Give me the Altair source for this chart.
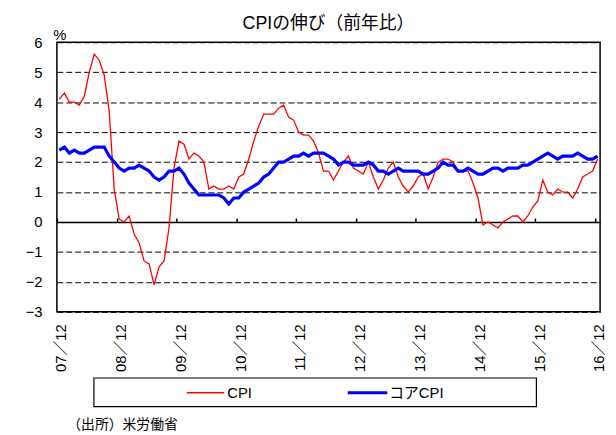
import altair as alt
import pandas as pd

# ---- data ----
cpi = [4.1,
       4.3, 4.0, 4.0, 3.9, 4.2, 5.0, 5.6, 5.4, 4.9, 3.7, 1.1, 0.1,
       0.0, 0.2, -0.4, -0.7, -1.3, -1.4, -2.1, -1.5, -1.3, -0.2, 1.8, 2.7,
       2.6, 2.1, 2.3, 2.2, 2.0, 1.1, 1.2, 1.1, 1.1, 1.2, 1.1, 1.5,
       1.6, 2.1, 2.7, 3.2, 3.6, 3.6, 3.6, 3.8, 3.9, 3.5, 3.4, 3.0,
       2.9, 2.9, 2.7, 2.3, 1.7, 1.7, 1.4, 1.7, 2.0, 2.2, 1.8, 1.7,
       1.6, 2.0, 1.5, 1.1, 1.4, 1.8, 2.0, 1.5, 1.2, 1.0, 1.2, 1.5,
       1.6, 1.1, 1.5, 2.0, 2.1, 2.1, 2.0, 1.7, 1.7, 1.7, 1.3, 0.8,
       -0.1, 0.0, -0.1, -0.2, 0.0, 0.1, 0.2, 0.2, 0.0, 0.2, 0.5, 0.7,
       1.4, 1.0, 0.9, 1.1, 1.0, 1.0, 0.8, 1.1, 1.5, 1.6, 1.7, 2.1]
core = [2.4,
        2.5, 2.3, 2.4, 2.3, 2.3, 2.4, 2.5, 2.5, 2.5, 2.2, 2.0, 1.8,
        1.7, 1.8, 1.8, 1.9, 1.8, 1.7, 1.5, 1.4, 1.5, 1.7, 1.7, 1.8,
        1.6, 1.3, 1.1, 0.9, 0.9, 0.9, 0.9, 0.9, 0.8, 0.6, 0.8, 0.8,
        1.0, 1.1, 1.2, 1.3, 1.5, 1.6, 1.8, 2.0, 2.0, 2.1, 2.2, 2.2,
        2.3, 2.2, 2.3, 2.3, 2.3, 2.2, 2.1, 1.9, 2.0, 2.0, 1.9, 1.9,
        1.9, 2.0, 1.9, 1.7, 1.7, 1.6, 1.7, 1.8, 1.7, 1.7, 1.7, 1.7,
        1.6, 1.6, 1.7, 1.8, 2.0, 1.9, 1.9, 1.7, 1.7, 1.8, 1.7, 1.6,
        1.6, 1.7, 1.8, 1.8, 1.7, 1.8, 1.8, 1.8, 1.9, 1.9, 2.0, 2.1,
        2.2, 2.3, 2.2, 2.1, 2.2, 2.2, 2.2, 2.3, 2.2, 2.1, 2.1, 2.2]
year_labels = ["07／12", "08／12", "09／12", "10／12", "11／12",
               "12／12", "13／12", "14／12", "15／12", "16／12"]
y_ticks = [-3, -2, -1, 0, 1, 2, 3, 4, 5, 6]
series_names = ["CPI", "コアCPI"]
title_text = "CPIの伸び（前年比）"
unit_text = "%"
source_text = "（出所）米労働省"

# ---- build ----
n = len(cpi)
df = pd.DataFrame({"i": list(range(n)), "cpi": cpi, "core": core})
tick_vals = [k * 12 - 0.5 for k in range(len(year_labels))]

FONT = "Liberation Sans, Noto Sans CJK JP"
W, H = 550, 273
ZERO_PX = H * y_ticks[-1] / (y_ticks[-1] - y_ticks[0])

x_scale = alt.Scale(domain=[-0.5, n - 0.5], nice=False, zero=False)
y_scale = alt.Scale(domain=[y_ticks[0], y_ticks[-1]], nice=False, zero=False)
y_axis = alt.Axis(values=y_ticks, grid=True, gridDash=[6, 3], gridColor="#000",
                  gridWidth=1, domain=False, ticks=False, tickSize=0,
                  labelPadding=15, labelFontSize=15, labelFont=FONT,
                  labelColor="#000", title=None)

label_expr = "[" + ",".join("'%s'" % s for s in year_labels) + "][round((datum.value + 0.5) / 12)]"

bottom_axis = alt.Axis(orient="bottom", values=tick_vals, labelExpr=label_expr,
                       labelAngle=270, labelPadding=12, labelOffset=4,
                       labelFontSize=15, labelFont=FONT, labelColor="#000",
                       ticks=False, tickSize=0, domain=False, grid=False,
                       title=None)
zero_axis = alt.Axis(orient="top", offset=-ZERO_PX, values=tick_vals,
                     labels=False, ticks=True, tickSize=4, tickColor="#000",
                     tickWidth=1.5, domain=True, domainColor="#000",
                     domainWidth=1.5, grid=False, title=None)

base = alt.Chart(df)
red = base.mark_line(color="#FF0000", strokeWidth=1.3).encode(
    x=alt.X("i:Q", scale=x_scale, axis=zero_axis),
    y=alt.Y("cpi:Q", scale=y_scale, axis=y_axis),
)
blue = base.mark_line(color="#0000FF", strokeWidth=3.2).encode(
    x=alt.X("i:Q", scale=x_scale, axis=bottom_axis),
    y=alt.Y("core:Q", scale=y_scale, axis=y_axis),
)

one = alt.Data(values=[{"k": 0}])
box = alt.Chart(one).mark_rect(fill="white", stroke="black", strokeWidth=1.2).encode(
    x=alt.value(37.5), x2=alt.value(485.5), y=alt.value(340), y2=alt.value(369))
leg_red = alt.Chart(one).mark_rule(color="#FF0000", strokeWidth=1.5).encode(
    x=alt.value(131.5), x2=alt.value(169.5), y=alt.value(355))
leg_red_t = alt.Chart(one).mark_text(align="left", baseline="middle", fontSize=15,
                                     font=FONT, color="#000", text=series_names[0]).encode(
    x=alt.value(172.5), y=alt.value(355))
leg_blue = alt.Chart(one).mark_rule(color="#0000FF", strokeWidth=3).encode(
    x=alt.value(294.5), x2=alt.value(334.5), y=alt.value(355))
leg_blue_t = alt.Chart(one).mark_text(align="left", baseline="middle", fontSize=15,
                                      font=FONT, color="#000", text=series_names[1]).encode(
    x=alt.value(336.5), y=alt.value(355))

title = alt.Chart(one).mark_text(align="center", baseline="middle", fontSize=18,
                                 font=FONT, color="#000", text=title_text).encode(
    x=alt.value(W / 2), y=alt.value(-18))
unit = alt.Chart(one).mark_text(align="center", baseline="middle", fontSize=15,
                                font=FONT, color="#000", text=unit_text).encode(
    x=alt.value(3), y=alt.value(-7.5))
source = alt.Chart(one).mark_text(align="left", baseline="middle", fontSize=14,
                                  font=FONT, color="#000", text=source_text).encode(
    x=alt.value(10.5), y=alt.value(388))

chart = alt.layer(red, blue, box, leg_red, leg_red_t, leg_blue, leg_blue_t,
                  title, unit, source).resolve_axis(x="independent").properties(
    width=W, height=H,
    autosize=alt.AutoSizeParams(type="none"),
    padding={"left": 49.5, "top": 32, "right": 8, "bottom": 120},
).configure_view(stroke="#000", strokeWidth=1.5)

chart.save("out.html", embed_options={"renderer": "svg", "actions": False})
